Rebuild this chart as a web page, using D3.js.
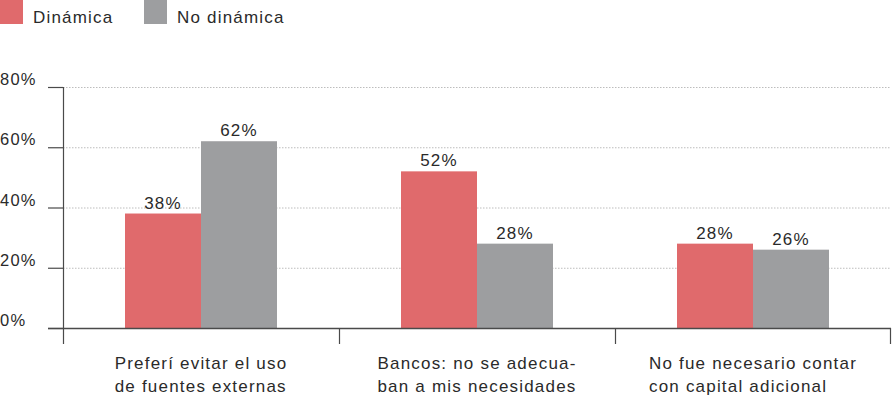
<!DOCTYPE html>
<html>
<head>
<meta charset="utf-8">
<script src="https://cdn.jsdelivr.net/npm/d3@7"></script>
<style>
  html, body { margin: 0; padding: 0; background: #fff; }
  svg { display: block; font-family: "Liberation Sans", Arial, sans-serif; }
  text { letter-spacing: 1.2px; }
</style>
</head>
<body>
<svg id="chart" width="894" height="396"></svg>
<script>
// Data
const categories = [
  ["Preferí evitar el uso", "de fuentes externas"],
  ["Bancos: no se adecua-", "ban a mis necesidades"],
  ["No fue necesario contar", "con capital adicional"]
];
const seriesNames = ["Dinámica", "No dinámica"];
const dinamica = [38, 52, 28];
const noDinamica = [62, 28, 26];
const yTicks = [0, 20, 40, 60, 80];
const colors = ["#e06a6c", "#9d9ea0"];

const svg = d3.select("#chart");
const margin = { left: 63, right: 3, top: 87, bottom: 68 };
const W = 894, H = 396;
const x0 = margin.left, x1 = W - margin.right;
const yBase = H - margin.bottom;

const y = d3.scaleLinear().domain([0, 80]).range([yBase, margin.top]);
const keys = categories.map((c, i) => i);
const xBand = d3.scaleBand().domain(keys).range([x0, x1]).padding(0);
const inner = d3.scaleBand().domain([0, 1]).range([0, 152]);
const groupOffset = (xBand.bandwidth() - 152) / 2;

// Gridlines (dotted)
svg.append("g").selectAll("line").data(yTicks.filter(t => t > 0)).join("line")
  .attr("x1", x0).attr("x2", x1)
  .attr("y1", d => y(d) + 0.5).attr("y2", d => y(d) + 0.5)
  .attr("stroke", "#bdbdbd").attr("stroke-width", 1)
  .attr("stroke-dasharray", "1.5,1.5");

// Bars
const series = [dinamica, noDinamica];
const groups = svg.append("g").selectAll("g").data(keys).join("g")
  .attr("transform", i => `translate(${xBand(i) + groupOffset},0)`);
groups.selectAll("rect")
  .data(i => series.map((s, k) => ({ k, v: s[i] })))
  .join("rect")
  .attr("x", d => inner(d.k))
  .attr("width", inner.bandwidth())
  .attr("y", d => y(d.v))
  .attr("height", d => yBase - y(d.v))
  .attr("fill", d => colors[d.k]);
groups.selectAll("text")
  .data(i => series.map((s, k) => ({ k, v: s[i] })))
  .join("text")
  .attr("x", d => inner(d.k) + inner.bandwidth() / 2)
  .attr("y", d => y(d.v) - 5)
  .attr("text-anchor", "middle")
  .attr("font-size", 17)
  .attr("fill", "#2a2a2a")
  .text(d => d.v + "%");

// Y axis line and ticks
svg.append("line")
  .attr("x1", x0 + 0.5).attr("x2", x0 + 0.5)
  .attr("y1", y(80)).attr("y2", yBase + 16)
  .attr("stroke", "#4a4a4a").attr("stroke-width", 1.2);
svg.append("g").selectAll("line").data(yTicks).join("line")
  .attr("x1", 48).attr("x2", x0)
  .attr("y1", d => y(d) + 0.5).attr("y2", d => y(d) + 0.5)
  .attr("stroke", "#4a4a4a").attr("stroke-width", 1.2);
svg.append("g").selectAll("text").data(yTicks).join("text")
  .attr("x", 0).attr("y", d => y(d) - 2)
  .attr("font-size", 16.5).attr("fill", "#2a2a2a")
  .text(d => d + "%");

// Baseline and category separators
svg.append("line")
  .attr("x1", 48).attr("x2", x1)
  .attr("y1", yBase + 0.5).attr("y2", yBase + 0.5)
  .attr("stroke", "#4a4a4a").attr("stroke-width", 1.5);
svg.append("g").selectAll("line").data(keys.map(i => xBand(i) + xBand.bandwidth()))
  .join("line")
  .attr("x1", d => Math.min(d, x1 - 1) + 0.5).attr("x2", d => Math.min(d, x1 - 1) + 0.5)
  .attr("y1", yBase).attr("y2", yBase + 16)
  .attr("stroke", "#4a4a4a").attr("stroke-width", 1.2);

// Category labels: a left-aligned text block, centred on its band
const catText = svg.append("g").selectAll("text").data(keys).join("text")
  .attr("font-size", 17).attr("fill", "#2a2a2a");
const spans = catText.selectAll("tspan").data(i => categories[i].map(t => ({ i, t })))
  .join("tspan")
  .attr("y", (d, j) => 369 + j * 23)
  .text(d => d.t);
catText.each(function (i) {
  const ts = d3.select(this).selectAll("tspan");
  let wMax = 0;
  ts.each(function () { wMax = Math.max(wMax, this.getComputedTextLength()); });
  const left = xBand(i) + xBand.bandwidth() / 2 - wMax / 2;
  ts.attr("x", left);
});

// Legend
const legend = svg.append("g");
const legX = [0, 144];
seriesNames.forEach((n, k) => {
  legend.append("rect").attr("x", legX[k]).attr("y", 0).attr("width", 23).attr("height", 24)
    .attr("fill", colors[k]);
  legend.append("text").attr("x", legX[k] + 33).attr("y", 22.5)
    .attr("font-size", 17).attr("fill", "#2a2a2a").text(n);
});
</script>
</body>
</html>
